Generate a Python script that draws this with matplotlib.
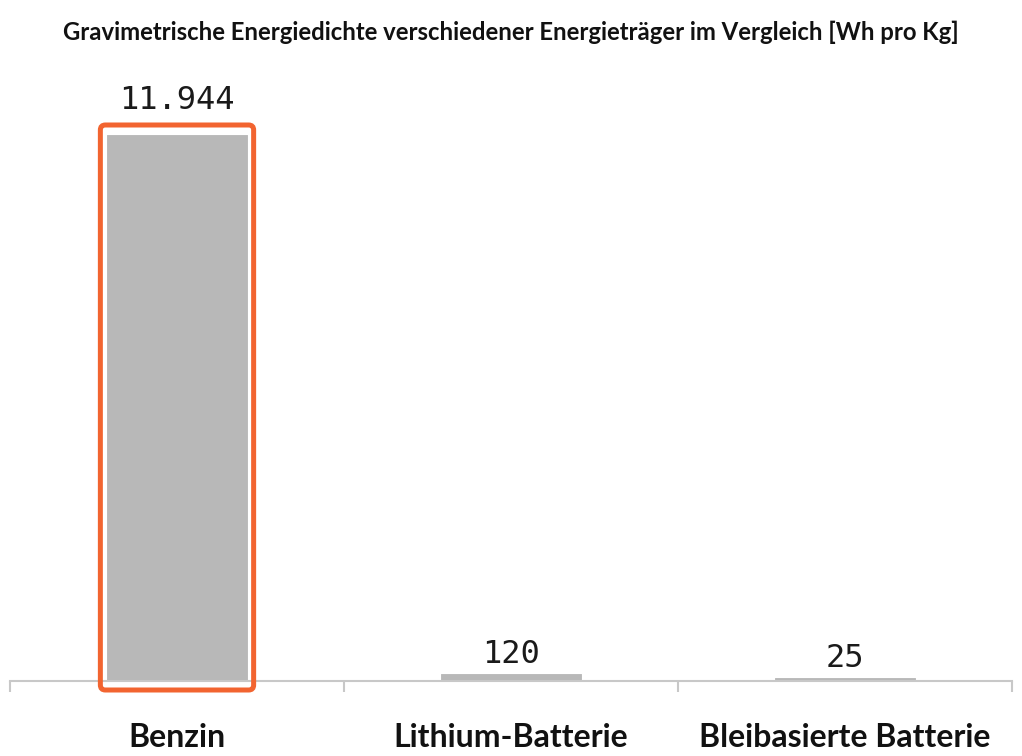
import matplotlib.pyplot as plt
from matplotlib.patches import FancyBboxPatch
from matplotlib.transforms import IdentityTransform

# data
categories = ["Benzin", "Lithium-Batterie", "Bleibasierte Batterie"]
values = [11944, 120, 25]
highlight = "Benzin"

title = "Gravimetrische Energiedichte verschiedener Energieträger im Vergleich [Wh pro Kg]"

W, H = 1022, 756
fig = plt.figure(figsize=(W / 100, H / 100), dpi=100)

# axes in pixel coords: x 10..1012, baseline y=681, top y=80
ax_top = 80
ax = fig.add_axes([10 / W, (H - 681) / H, 1002 / W, (681 - ax_top) / H])
ymax = values[0] * (681 - ax_top) / (681 - 137)

x = list(range(len(categories)))
# edge line keeps the tiny bars visible like in the original
bars = ax.bar(x, values, width=0.405, color="#b8b8b8", edgecolor="#b8b8b8",
              linewidth=3.5, zorder=2)
ax.set_xlim(-0.5, len(categories) - 0.5)
ax.set_ylim(0, ymax)

for s in ["top", "right", "left"]:
    ax.spines[s].set_visible(False)
ax.spines["bottom"].set_color("#c8c8c8")
ax.spines["bottom"].set_linewidth(1.5)
ax.set_yticks([])

ax.set_xticks(x)
ax.set_xticklabels(categories, fontfamily="Lato", fontweight="bold", fontsize=23, color="#111111")
ax.tick_params(axis="x", which="major", length=0, pad=30)
ax.set_xticks([i - 0.5 for i in range(len(categories) + 1)], minor=True)
ax.tick_params(axis="x", which="minor", length=8, width=1.5, color="#c8c8c8", direction="out")

for xi, v, c in zip(x, values, categories):
    lbl = f"{v:,}".replace(",", ".")
    off = 15 if c == highlight else 4
    ax.annotate(lbl, (xi, v), xytext=(0, off), textcoords="offset points",
                ha="center", va="bottom", fontfamily="DejaVu Sans Mono",
                fontsize=23, color="#1a1a1a")

fig.text(0.5, 1 - 32 / H, title, ha="center", va="center",
         fontfamily="Lato", fontweight="bold", fontsize=17.2, color="#111111")

# orange frame around highlighted bar, in pixels
fig.canvas.draw()
renderer = fig.canvas.get_renderer()
bb = bars[categories.index(highlight)].get_window_extent(renderer)
padx, ptop, pbot = 9, 12, 9
frame = FancyBboxPatch((bb.x0 - padx, bb.y0 - pbot), bb.width + 2 * padx,
                       bb.height + ptop + pbot,
                       boxstyle="round,pad=0,rounding_size=5",
                       transform=IdentityTransform(), fill=False,
                       edgecolor="#f26430", linewidth=3.6, zorder=5)
fig.patches.append(frame)

fig.savefig("out.png", dpi=100)
